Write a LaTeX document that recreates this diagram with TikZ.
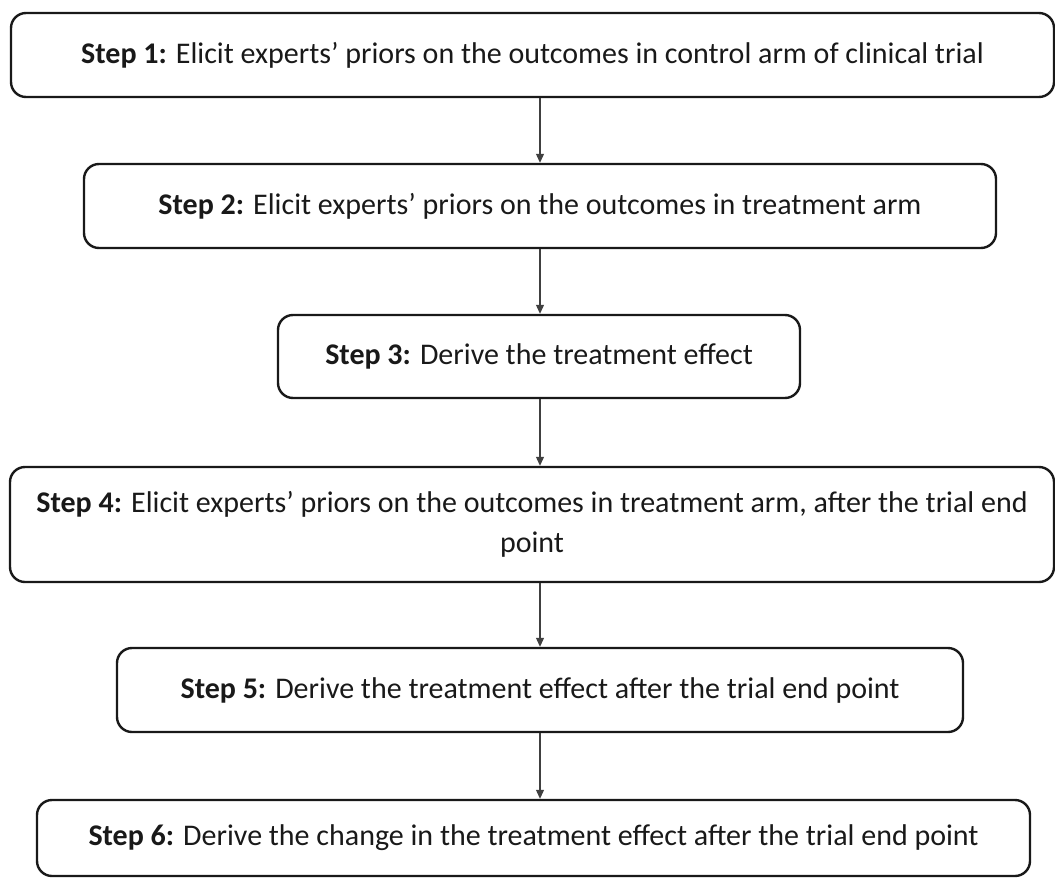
\documentclass[tikz,border=0pt]{standalone}
\usepackage{fontspec}
\setmainfont{Carlito}
\usetikzlibrary{arrows.meta}
\begin{document}
\begin{tikzpicture}[x=1pt,y=-1pt,
  stepbox/.style={draw=black!90,line width=2.4pt,rounded corners=15pt,inner sep=0pt,align=center,text=black!90,font=\fontsize{30}{40}\selectfont},
  flow/.style={draw=black!75,line width=1.1pt,-{Triangle[length=9pt,width=8pt]}}]
\useasboundingbox (0,0) rectangle (1055,878);
\node[stepbox,minimum width=1043pt,minimum height=84pt] (s1) at (532.5,55) {\textbf{Step 1:} Elicit experts’ priors on the outcomes in control arm of clinical trial};
\node[stepbox,minimum width=912pt,minimum height=84pt] (s2) at (540,206) {\textbf{Step 2:} Elicit experts’ priors on the outcomes in treatment arm};
\node[stepbox,minimum width=522pt,minimum height=83pt] (s3) at (539,356.5) {\textbf{Step 3:} Derive the treatment effect};
\node[stepbox,minimum width=1044pt,minimum height=115pt] (s4) at (532,524.5) {\textbf{Step 4:} Elicit experts’ priors on the outcomes in treatment arm, after the trial end\\point};
\node[stepbox,minimum width=846pt,minimum height=84pt] (s5) at (540,690) {\textbf{Step 5:} Derive the treatment effect after the trial end point};
\node[stepbox,minimum width=993pt,minimum height=76pt] (s6) at (533.5,838) {\textbf{Step 6:} Derive the change in the treatment effect after the trial end point};
\draw[flow] (s1.south -| 540,0) -- (s2.north -| 540,0);
\draw[flow] (s2.south -| 540,0) -- (s3.north -| 540,0);
\draw[flow] (s3.south -| 540,0) -- (s4.north -| 540,0);
\draw[flow] (s4.south -| 540,0) -- (s5.north -| 540,0);
\draw[flow] (s5.south -| 540,0) -- (s6.north -| 540,0);
\end{tikzpicture}
\end{document}
